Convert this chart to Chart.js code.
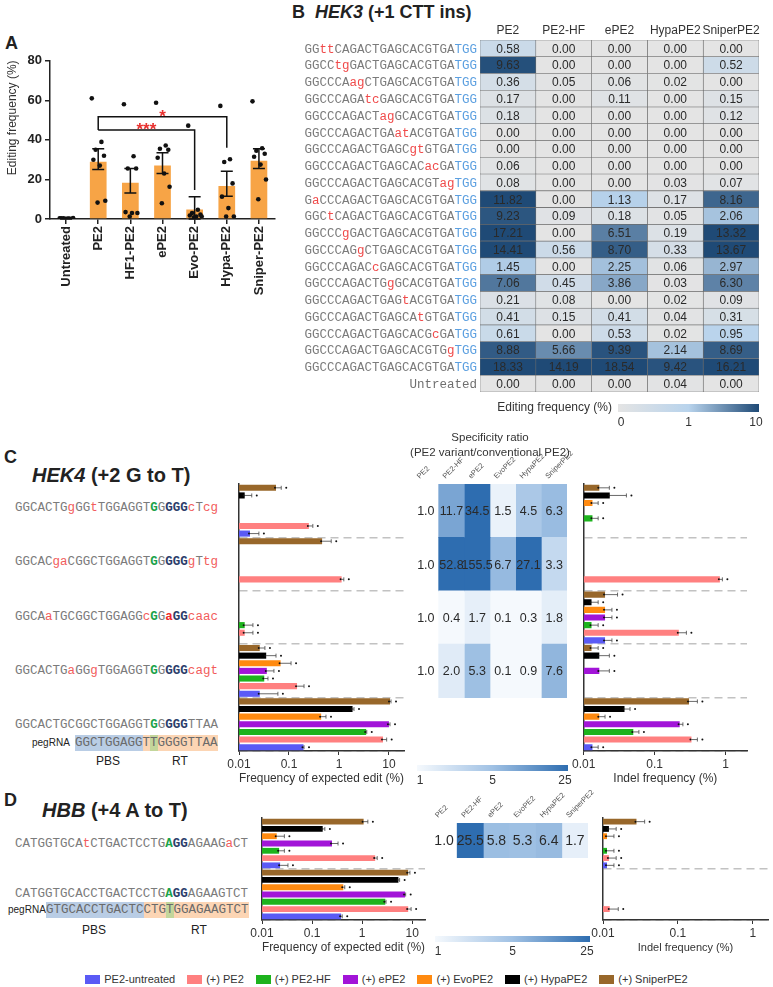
<!DOCTYPE html>
<html>
<head>
<meta charset="utf-8">
<script src="https://cdn.jsdelivr.net/npm/chart.js@4.4.0/dist/chart.umd.min.js"></script>
<style>
body{margin:0;background:#fff;width:773px;height:987px;position:relative;overflow:hidden;font-family:'Liberation Sans',Arial,sans-serif;color:#222}
canvas{position:absolute}
.t{position:absolute;white-space:pre}
.lbl{font-weight:bold;font-size:18px;line-height:18px}
.ttl{font-weight:bold;font-size:20px;line-height:20px}
.seq{font-family:'Liberation Mono',monospace;font-size:12.5px;line-height:14px;color:#7b7b7b}
.seq .lo{color:#f25c5c}
.seq .r{color:#ee2a2a;font-weight:bold}
.seq .g{color:#1aa34a;font-weight:bold}
.seq .n{color:#2c3e6b;font-weight:bold}
.peg span{display:inline-block;height:16px;line-height:16px}
.small{font-size:10px;line-height:10px}
.pr{font-size:12px;line-height:12px;transform:translateX(-50%)}
#legend{position:absolute;top:973px;left:0;width:773px;display:flex;justify-content:center;gap:12px;font-size:11px;line-height:12px;color:#333}
#legend span.sw{display:inline-block;width:15px;height:9px;margin-right:4px;vertical-align:-1px}
</style>
</head>
<body>
<div class="t lbl" style="left:5px;top:34px">A</div>
<div class="t lbl" style="left:292px;top:3px">B&nbsp;&nbsp;<i>HEK3</i> (+1 CTT ins)</div>
<div class="t lbl" style="left:4px;top:448px">C</div>
<div class="t ttl" style="left:32px;top:465px"><i>HEK4</i> (+2 G to T)</div>
<div class="t lbl" style="left:4px;top:791px">D</div>
<div class="t ttl" style="left:42px;top:800px"><i>HBB</i> (+4 A to T)</div>
<div id="seqs"></div>
<div id="legend"></div>

<canvas id="cA" width="285" height="262" style="left:0;top:50px"></canvas>
<canvas id="cB" width="503" height="420" style="left:270px;top:20px"></canvas>
<canvas id="cCbar" width="185" height="310" style="left:222px;top:480px"></canvas>
<canvas id="cCheat" width="180" height="370" style="left:400px;top:425px"></canvas>
<canvas id="cCindel" width="203" height="310" style="left:570px;top:480px"></canvas>
<canvas id="cDbar" width="190" height="145" style="left:244px;top:814px"></canvas>
<canvas id="cDheat" width="185" height="180" style="left:420px;top:790px"></canvas>
<canvas id="cDindel" width="188" height="145" style="left:585px;top:814px"></canvas>

<script>
// ---------- Panel A ----------
const aGroups = ['Untreated', 'PE2', 'HF1-PE2', 'ePE2', 'Evo-PE2', 'Hypa-PE2', 'Sniper-PE2'];
const aMeans = [0.3, 29, 18.3, 27, 4.8, 16.7, 29.5];
const aErrLow = [0, 25, 13.2, 23, 0, 11.5, 25.5];
const aErrHigh = [0.6, 35.5, 25.5, 33.5, 11.3, 24.2, 35.5];
const aDots = [
  [0.3, 0.2, 0.4, 0.1, 0.3, 0.2, 0.5, 0.1],
  [61, 39, 35, 32, 30, 27, 9.2, 8.3],
  [58, 31.7, 25.5, 25.5, 3.5, 3, 3, 1.3],
  [58.8, 37.2, 35.5, 35, 31, 23, 16.3, 8],
  [47.2, 4.7, 3, 2.2, 1.8, 1.3, 1.3, 0.8],
  [57.2, 30.2, 28.8, 18, 11.3, 5.5, 1.3, 1.3],
  [59.5, 35.8, 34.5, 33, 31.5, 27.5, 20, 10]
];
// [from, to, bracket level, left end, right end, label]
const aSig = [[1, 5, 51.7, 45, 36, '*'], [1, 4, 45, 45, 14.7, '***']];

// ---------- Panel B ----------
const bCols = ['PE2', 'PE2-HF', 'ePE2', 'HypaPE2', 'SniperPE2'];
const bRows = [
  'GGttCAGACTGAGCACGTGATGG', 'GGCCtgGACTGAGCACGTGATGG', 'GGCCCAagCTGAGCACGTGATGG',
  'GGCCCAGAtcGAGCACGTGATGG', 'GGCCCAGACTagGCACGTGATGG', 'GGCCCAGACTGAatACGTGATGG',
  'GGCCCAGACTGAGCgtGTGATGG', 'GGCCCAGACTGAGCACacGATGG', 'GGCCCAGACTGAGCACGTagTGG',
  'GaCCCAGACTGAGCACGTGATGG', 'GGCtCAGACTGAGCACGTGATGG', 'GGCCCgGACTGAGCACGTGATGG',
  'GGCCCAGgCTGAGCACGTGATGG', 'GGCCCAGACcGAGCACGTGATGG', 'GGCCCAGACTGgGCACGTGATGG',
  'GGCCCAGACTGAGtACGTGATGG', 'GGCCCAGACTGAGCAtGTGATGG', 'GGCCCAGACTGAGCACGcGATGG',
  'GGCCCAGACTGAGCACGTGgTGG', 'GGCCCAGACTGAGCACGTGATGG', 'Untreated'
];
const bPE2 = [0.58, 9.63, 0.36, 0.17, 0.18, 0.00, 0.00, 0.06, 0.08, 11.82, 9.23, 17.21, 14.41, 1.45, 7.06, 0.21, 0.41, 0.61, 8.88, 18.33, 0.00];
const bHF = [0.00, 0.00, 0.05, 0.00, 0.00, 0.00, 0.00, 0.00, 0.00, 0.00, 0.09, 0.00, 0.56, 0.00, 0.45, 0.08, 0.15, 0.00, 5.66, 14.19, 0.00];
const bE = [0.00, 0.00, 0.06, 0.11, 0.00, 0.00, 0.00, 0.00, 0.00, 1.13, 0.18, 6.51, 8.70, 2.25, 3.86, 0.00, 0.41, 0.53, 9.39, 18.54, 0.00];
const bHypa = [0.00, 0.00, 0.02, 0.00, 0.00, 0.00, 0.00, 0.00, 0.03, 0.17, 0.05, 0.19, 0.33, 0.06, 0.03, 0.02, 0.04, 0.02, 2.14, 9.42, 0.04];
const bSniper = [0.00, 0.52, 0.00, 0.15, 0.12, 0.00, 0.00, 0.00, 0.07, 8.16, 2.06, 13.32, 13.67, 2.97, 6.30, 0.09, 0.31, 0.95, 8.69, 16.21, 0.00];
const bTicks = ['0', '1', '10'];

// ---------- Panels C / D shared ----------
const treatNames = ['(+) SniperPE2', '(+) HypaPE2', '(+) EvoPE2', '(+) ePE2', '(+) PE2-HF', '(+) PE2', 'PE2-untreated'];
const treatColors = ['#98672a', '#000000', '#ff8a10', '#a214d8', '#1db31d', '#ff8080', '#5a5af5'];
const heatCols = ['PE2', 'PE2-HF', 'ePE2', 'EvoPE2', 'HypaPE2', 'SniperPE2'];

// ---------- Panel C (HEK4) ----------
const cSites = ['OT1', 'OT2', 'OT3', 'OT4', 'On-target'];
const cSeqs = [
  'GGCACTGgGGtTGGAGGT{G}G[GGG]cTcg',
  'GGCACgaCGGCTGGAGGT{G}G[GGG]gTtg',
  'GGCAaTGCGGCTGGAGGc{G}G<a>[GG]caac',
  'GGCACTGaGGgTGGAGGT{G}G[GGG]cagt',
  'GGCACTGCGGCTGGAGGT{G}G[GGG]TTAA'
];
const cPeg = [['GGCTGGAGG', 'pbs'], ['T', 'rt'], ['T', 'ed'], ['GGGGTTAA', 'rt']];
// expected edit (%), order: Sniper, Hypa, Evo, ePE2, PE2-HF, PE2, untreated
const cEdit = [
  [0.055, 0.46, null, 0.026, 10.5],
  [0.013, null, null, 0.035, 1.87],
  [null, null, null, 0.068, 0.44],
  [null, null, null, 0.036, 10],
  [null, null, 0.013, 0.032, 3.5],
  [0.25, 1.13, 0.013, 0.145, 7.6],
  [0.0166, null, null, 0.026, 0.195]
];
const cEditHi = [
  [0.07, 0.7, null, 0.033, 11],
  [0.018, null, null, 0.055, 2],
  [null, null, null, 0.11, 0.55],
  [null, null, null, 0.05, 10.5],
  [null, null, 0.019, 0.038, 3.6],
  [0.3, 1.25, 0.019, 0.2, 9],
  [0.025, null, null, 0.06, 0.2]
];
const cIndel = [
  [0.0166, null, 0.02, 0.0129, 0.305],
  [0.0233, null, 0.0129, 0.0166, 0.0376],
  [0.0133, null, 0.02, null, 0.0166],
  [null, null, 0.02, 0.0166, 0.225],
  [0.0133, null, 0.0129, null, 0.05],
  [null, 0.83, 0.219, null, 0.33],
  [null, null, 0.02, null, 0.0133]
];
const cIndelHi = [
  [0.023, null, 0.03, 0.016, 0.4],
  [0.04, null, 0.016, 0.023, 0.045],
  [0.016, null, 0.025, null, 0.02],
  [null, null, 0.025, 0.023, 0.25],
  [0.016, null, 0.016, null, 0.06],
  [null, 0.9, 0.28, null, 0.4],
  [null, null, 0.025, null, 0.016]
];
// specificity ratio, one array per column
const cRatioPE2 = [1.0, 1.0, 1.0, 1.0, null];
const cRatioHF = [11.7, 52.8, 0.4, 2.0, null];
const cRatioE = [34.5, 155.5, 1.7, 5.3, null];
const cRatioEvo = [1.5, 6.7, 0.1, 0.1, null];
const cRatioHypa = [4.5, 27.1, 0.3, 0.9, null];
const cRatioSniper = [6.3, 3.3, 1.8, 7.6, null];
const ratioTicks = ['1', '5', '25'];

// ---------- Panel D (HBB) ----------
const dSites = ['OT1', 'On-target'];
const dSeqs = [
  'CATGGTGCAtCTGACTCCTG{A}[GG]AGAAGaCT',
  'CATGGTGCACCTGACTCCTG{A}[GG]AGAAGTCT'
];
const dPeg = [['GTGCACCTGACTC', 'pbs'], ['CTG', 'rt'], ['T', 'ed'], ['GGAGAAGTCT', 'rt']];
const dEdit = [[1.07, 8.3], [0.163, 5.3], [0.0197, 0.42], [0.25, 7.2], [0.022, 2.9], [1.82, 8.3], [0.023, 0.38]];
const dEditHi = [[1.3, 9], [0.18, 5.6], [0.028, 0.45], [0.33, 7.4], [0.028, 3], [2, 9.5], [0.033, 0.4]];
const dIndel = [[0.028, null], [0.012, null], [0.0113, null], [null, null], [0.0113, null], [0.012, 0.0123], [0.0113, null]];
const dIndelHi = [[0.036, null], [0.015, null], [0.014, null], [null, null], [0.014, null], [0.015, 0.016], [0.014, null]];
const dRatio = [[1.0], [25.5], [5.8], [5.3], [6.4], [1.7]];

const logTicks = [0.01, 0.1, 1, 10];
const indelTicks = [0.01, 0.1, 1];

Chart.defaults.font.family = "'Liberation Sans', Arial, sans-serif";
Chart.defaults.color = '#333';

function mix(c1, c2, t) {
  const a = parseInt(c1.slice(1), 16), b = parseInt(c2.slice(1), 16);
  const ch = s => Math.round(((a >> s) & 255) * (1 - t) + ((b >> s) & 255) * t);
  return 'rgb(' + ch(16) + ',' + ch(8) + ',' + ch(0) + ')';
}
function hek3Color(v) {
  if (v <= 1) return mix('#e4e4e4', '#b8d3ec', v);
  return mix('#b8d3ec', '#1f4a76', Math.min(1, (v - 1) / 9));
}
function ratioColor(v, c) {
  if (c === 0) return 'rgba(255,255,255,0)';
  if (v <= 1) return '#f5f9fd';
  if (v <= 5) return mix('#f5f9fd', '#a0c1e4', (v - 1) / 4);
  return mix('#a0c1e4', '#2e6db0', Math.min(1, (v - 5) / 20));
}

// ---------- HTML sequences ----------
function seqHTML(s) {
  let out = '', mode = null;
  for (const ch of s) {
    if (ch === '{') { mode = 'g'; continue; }
    if (ch === '[') { mode = 'n'; continue; }
    if (ch === '<') { mode = 'r'; continue; }
    if (ch === '}' || ch === ']' || ch === '>') { mode = null; continue; }
    const cls = mode || (ch === ch.toLowerCase() ? 'lo' : 'up');
    out += '<span class="' + cls + '">' + ch + '</span>';
  }
  return out;
}
const pegBg = {pbs: '#b9cde5', rt: '#fcd5b4', ed: '#c3d69b'};
function pegHTML(parts) {
  return parts.map(p => '<span style="background:' + pegBg[p[1]] + '">' + p[0] + '</span>').join('');
}
let html = '';
const cSeqTops = [501, 555, 610, 664, 718];
cSeqs.forEach((s, i) => { html += '<div class="t seq" style="left:15px;top:' + cSeqTops[i] + 'px">' + seqHTML(s) + '</div>'; });
html += '<div class="t small" style="left:32px;top:738px">pegRNA</div>';
html += '<div class="t seq peg" style="left:75px;top:735px;color:#6a6a6a">' + pegHTML(cPeg) + '</div>';
html += '<div class="t pr" style="left:108px;top:755px">PBS</div><div class="t pr" style="left:180px;top:755px">RT</div>';
const dSeqTops = [837, 887];
dSeqs.forEach((s, i) => { html += '<div class="t seq" style="left:15px;top:' + dSeqTops[i] + 'px">' + seqHTML(s) + '</div>'; });
html += '<div class="t small" style="left:8px;top:905px">pegRNA</div>';
html += '<div class="t seq peg" style="left:46px;top:902px;color:#6a6a6a">' + pegHTML(dPeg) + '</div>';
html += '<div class="t pr" style="left:94px;top:924px">PBS</div><div class="t pr" style="left:199px;top:924px">RT</div>';
document.getElementById('seqs').innerHTML = html;

// legend (original order)
const legendOrder = [6, 5, 4, 3, 2, 1, 0];
document.getElementById('legend').innerHTML = legendOrder.map(i =>
  '<span><span class="sw" style="background:' + treatColors[i] + '"></span>' + treatNames[i] + '</span>').join('');

// ---------- Chart A ----------
const dotJitter = [-0.2, 0.1, -0.08, 0.18, -0.15, 0.05, 0.22, -0.02];
const aPoints = [];
aDots.forEach((arr, i) => arr.forEach((v, k) => aPoints.push({x: i + dotJitter[k], y: v})));

const aPlugin = {
  id: 'aExtra',
  afterDatasetsDraw(chart) {
    const {ctx, scales: {x, y}, chartArea} = chart;
    ctx.save();
    ctx.strokeStyle = '#111';
    ctx.lineWidth = 1.5;
    aMeans.forEach((m, i) => {
      const cx = x.getPixelForValue(i), y0 = y.getPixelForValue(aErrLow[i]), y1 = y.getPixelForValue(aErrHigh[i]);
      ctx.beginPath();
      ctx.moveTo(cx, y0); ctx.lineTo(cx, y1);
      ctx.moveTo(cx - 6, y1); ctx.lineTo(cx + 6, y1);
      ctx.moveTo(cx - 6, y0); ctx.lineTo(cx + 6, y0);
      ctx.stroke();
    });
    aSig.forEach(([a, b, lvl, ea, eb, label]) => {
      const xa = x.getPixelForValue(a), xb = x.getPixelForValue(b), yl = y.getPixelForValue(lvl);
      ctx.beginPath();
      ctx.moveTo(xa, y.getPixelForValue(ea)); ctx.lineTo(xa, yl); ctx.lineTo(xb, yl); ctx.lineTo(xb, y.getPixelForValue(eb));
      ctx.stroke();
      ctx.fillStyle = '#e8312f';
      ctx.font = 'bold 17px "Liberation Sans"';
      ctx.textAlign = 'center';
      ctx.fillText(label, (xa + xb) / 2, yl + 5);
    });
    ctx.translate(13, chartArea.top + 57);
    ctx.rotate(-Math.PI / 2);
    ctx.fillStyle = '#333';
    ctx.font = '12px "Liberation Sans"';
    ctx.textAlign = 'center';
    ctx.textBaseline = 'middle';
    ctx.fillText('Editing frequency (%)', 0, 0);
    ctx.restore();
  }
};

new Chart(document.getElementById('cA'), {
  type: 'bar',
  data: {
    datasets: [
      {type: 'bar', data: aMeans.map((v, i) => ({x: i, y: v})), backgroundColor: '#f7a446',
        barPercentage: 0.52, categoryPercentage: 1, grouped: false, order: 2},
      {type: 'scatter', data: aPoints, pointRadius: 2.3, backgroundColor: '#111', borderWidth: 0, order: 1}
    ]
  },
  options: {
    responsive: false, animation: false,
    layout: {padding: {top: 9, right: 10}},
    plugins: {legend: {display: false}, tooltip: {enabled: false}},
    scales: {
      x: {
        type: 'linear', min: -0.5, max: 6.5, offset: false,
        afterBuildTicks: s => { s.ticks = aGroups.map((g, i) => ({value: i})); },
        ticks: {callback: v => aGroups[v], autoSkip: false, font: {size: 13, weight: 'bold'}, color: '#222', minRotation: 90, maxRotation: 90, padding: 2},
        grid: {drawOnChartArea: false, offset: false, color: '#222', tickLength: 5, lineWidth: 1.5},
        border: {color: '#222', width: 1.5},
        afterFit: s => { s.height = 93; }
      },
      y: {
        min: 0, max: 80,
        ticks: {stepSize: 20, font: {size: 13, weight: 'bold'}, color: '#222', padding: 3},
        grid: {drawOnChartArea: false, color: '#222', tickLength: 5, lineWidth: 1.5},
        border: {color: '#222', width: 1.5},
        afterFit: s => { s.width = 50; }
      }
    }
  },
  plugins: [aPlugin]
});

// ---------- heatmap helper (stacked unit bars) ----------
function cellText(chart, digits, size) {
  const ctx = chart.ctx;
  ctx.font = size + 'px "Liberation Sans"';
  ctx.fillStyle = '#2a2a2a';
  ctx.textAlign = 'center';
  ctx.textBaseline = 'middle';
  chart.data.datasets.forEach((ds, c) => {
    chart.getDatasetMeta(c).data.forEach((bar, r) => {
      const v = ds.vals[r];
      if (v == null) return;
      const p = bar.getProps(['x', 'base', 'y'], true);
      ctx.fillText(v.toFixed(digits), (p.x + p.base) / 2, p.y + 1);
    });
  });
}
function colorBar(ctx, x0, x1, y0, h, stops, labels, ty) {
  const g = ctx.createLinearGradient(x0, 0, x1, 0);
  stops.forEach((c, i) => g.addColorStop(i / (stops.length - 1), c));
  ctx.fillStyle = g;
  ctx.fillRect(x0, y0, x1 - x0, h);
  ctx.fillStyle = '#333';
  ctx.font = '12px "Liberation Sans"';
  ctx.textAlign = 'center';
  ctx.textBaseline = 'middle';
  labels.forEach((t, i) => ctx.fillText(t, x0 + 3 + (x1 - x0 - 6) * i / (labels.length - 1), ty));
}
function heatConfig(rows, cols, colorFn, pad, border, plugin) {
  return {
    type: 'bar',
    data: {
      labels: rows,
      datasets: cols.map((vals, c) => ({
        data: vals.map(v => v == null ? null : 1),
        vals: vals,
        backgroundColor: vals.map(v => v == null ? 'rgba(0,0,0,0)' : colorFn(v, c)),
        borderColor: border ? '#6a6a6a' : 'rgba(0,0,0,0)',
        borderWidth: border ? 0.6 : 0,
        borderSkipped: false,
        barPercentage: 1, categoryPercentage: 1
      }))
    },
    options: {
      indexAxis: 'y', responsive: false, animation: false,
      layout: {padding: pad},
      plugins: {legend: {display: false}, tooltip: {enabled: false}},
      scales: {
        x: {stacked: true, min: 0, max: cols.length, display: false},
        y: {stacked: true, display: false}
      }
    },
    plugins: [plugin]
  };
}

// ---------- Chart B ----------
const bPlugin = {
  id: 'bExtra',
  afterDatasetsDraw(chart) {
    const {ctx, chartArea: ca, scales: {x, y}} = chart;
    ctx.save();
    cellText(chart, 2, 12);
    ctx.fillStyle = '#333';
    bCols.forEach((name, c) => ctx.fillText(name, x.getPixelForValue(c + 0.5), ca.top - 9));
    ctx.font = '12.5px "Liberation Mono"';
    ctx.textAlign = 'left';
    bRows.forEach((s, r) => {
      const yy = y.getPixelForValue(r) + 1;
      let xx = ca.left - 3 - ctx.measureText(s).width;
      for (let k = 0; k < s.length; k++) {
        const ch = s[k];
        if (s === 'Untreated') ctx.fillStyle = '#6f6f6f';
        else if (ch !== ch.toUpperCase()) ctx.fillStyle = '#f04a4a';
        else if (k >= s.length - 3) ctx.fillStyle = '#5b9fe0';
        else ctx.fillStyle = '#7b7b7b';
        ctx.fillText(ch, xx, yy);
        xx += ctx.measureText(ch).width;
      }
    });
    const gx0 = ca.right - 141;
    colorBar(ctx, gx0, ca.right, ca.bottom + 12, 8, ['#e4e4e4', '#b8d3ec', '#1f4a76'], bTicks, ca.bottom + 31);
    ctx.textAlign = 'right';
    ctx.fillText('Editing frequency (%)', gx0 - 6, ca.bottom + 16);
    ctx.restore();
  }
};
new Chart(document.getElementById('cB'),
  heatConfig(bRows, [bPE2, bHF, bE, bHypa, bSniper], hek3Color, {left: 210, right: 14, top: 20, bottom: 48}, true, bPlugin));

// ---------- horizontal log bar helper ----------
const errPlugin = {
  id: 'err',
  afterDatasetsDraw(chart) {
    const ctx = chart.ctx, xs = chart.scales.x;
    ctx.save();
    chart.data.datasets.forEach((ds, i) => {
      chart.getDatasetMeta(i).data.forEach((bar, j) => {
        const v = ds.data[j], h = ds.errHi[j];
        if (v == null || h == null) return;
        const x0 = xs.getPixelForValue(v), x1 = xs.getPixelForValue(h), yy = bar.y;
        ctx.strokeStyle = '#444';
        ctx.lineWidth = 0.8;
        ctx.beginPath();
        ctx.moveTo(x0, yy); ctx.lineTo(x1, yy);
        ctx.moveTo(x1, yy - 2); ctx.lineTo(x1, yy + 2);
        ctx.stroke();
        ctx.fillStyle = '#111';
        [x0 - 1, x1 + 5].forEach(px => { ctx.beginPath(); ctx.arc(px, yy, 1, 0, Math.PI * 2); ctx.fill(); });
      });
    });
    ctx.restore();
  }
};
function hbarConfig(sites, vals, his, xmax, ticks, title, titleSize, yW, xH, pad) {
  return {
    type: 'bar',
    data: {
      labels: sites,
      datasets: vals.map((d, i) => ({
        label: treatNames[i], data: d, errHi: his[i], backgroundColor: treatColors[i],
        barPercentage: 0.8, categoryPercentage: 1
      }))
    },
    options: {
      indexAxis: 'y', responsive: false, animation: false,
      layout: {padding: pad},
      plugins: {legend: {display: false}, tooltip: {enabled: false}},
      scales: {
        x: {
          type: 'logarithmic', min: 0.01, max: xmax,
          afterBuildTicks: s => { s.ticks = ticks.map(v => ({value: v})); },
          ticks: {callback: v => String(v), font: {size: 12}, color: '#333', padding: 2, maxRotation: 0},
          grid: {drawOnChartArea: false, color: '#333', tickLength: 4},
          border: {color: '#333', width: 1.5},
          title: {display: true, text: title, font: {size: titleSize}, color: '#333', padding: {top: 3}},
          afterFit: s => { s.height = xH; }
        },
        y: {
          ticks: {display: false},
          grid: {offset: true, drawTicks: false, lineWidth: 1.5, color: c => c.index === 0 ? 'rgba(0,0,0,0)' : '#c2c2c2'},
          border: {color: '#333', width: 1.5, dash: [8, 5]},
          afterFit: s => { s.width = yW; }
        }
      }
    },
    plugins: [errPlugin]
  };
}

new Chart(document.getElementById('cCbar'),
  hbarConfig(cSites, cEdit, cEditHi, 20, logTicks, 'Frequency of expected edit (%)', 12, 17, 39, {top: 4, right: 3}));
new Chart(document.getElementById('cCindel'),
  hbarConfig(cSites, cIndel, cIndelHi, 2, indelTicks, 'Indel frequency (%)', 12, 9, 39, {top: 4, right: 26}));
new Chart(document.getElementById('cDbar'),
  hbarConfig(dSites, dEdit, dEditHi, 18, logTicks, 'Frequency of expected edit (%)', 12, 18, 39, {top: 4, right: 9}));
new Chart(document.getElementById('cDindel'),
  hbarConfig(dSites, dIndel, dIndelHi, 1.6, indelTicks, 'Indel frequency (%)', 11, 18, 39, {top: 4, right: 5}));

// ---------- ratio heatmaps ----------
function ratioPlugin(showTitle, valSize) {
  return {
    id: 'ratio',
    afterDatasetsDraw(chart) {
      const {ctx, chartArea: ca, scales: {x}} = chart;
      ctx.save();
      cellText(chart, 1, valSize);
      ctx.fillStyle = '#555';
      ctx.font = '7.5px "Liberation Sans"';
      ctx.textAlign = 'left';
      ctx.textBaseline = 'alphabetic';
      heatCols.forEach((name, c) => {
        ctx.save();
        ctx.translate(x.getPixelForValue(c + 0.5) - 6, ca.top - 5);
        ctx.rotate(-Math.PI / 4);
        ctx.fillText(name, 0, 0);
        ctx.restore();
      });
      if (showTitle) {
        ctx.fillStyle = '#333';
        ctx.font = '11.5px "Liberation Sans"';
        ctx.textAlign = 'center';
        const cx = (ca.left + ca.right) / 2;
        ctx.fillText('Specificity ratio', cx, 16);
        ctx.fillText('(PE2 variant/conventional PE2)', cx, 31);
      }
      ctx.restore();
    },
    afterDraw(chart) {
      const ctx = chart.ctx;
      const cb = chart.options.colorBarAt;
      ctx.save();
      colorBar(ctx, cb[0], cb[1], cb[2], 6, ['#f5f9fd', '#a0c1e4', '#2e6db0'], ratioTicks, cb[2] + 16);
      ctx.restore();
    }
  };
}
const cHeatCfg = heatConfig(cSites, [cRatioPE2, cRatioHF, cRatioE, cRatioEvo, cRatioHypa, cRatioSniper], ratioColor,
  {left: 13, right: 13, top: 59, bottom: 44}, false, ratioPlugin(true, 12.5));
cHeatCfg.options.colorBarAt = [17, 168, 340];
new Chart(document.getElementById('cCheat'), cHeatCfg);

const dHeatCfg = heatConfig(['HBB'], dRatio, ratioColor, {left: 11, right: 17, top: 33, bottom: 112}, false, ratioPlugin(false, 14));
dHeatCfg.options.colorBarAt = [15, 170, 146];
new Chart(document.getElementById('cDheat'), dHeatCfg);
</script>
</body>
</html>
